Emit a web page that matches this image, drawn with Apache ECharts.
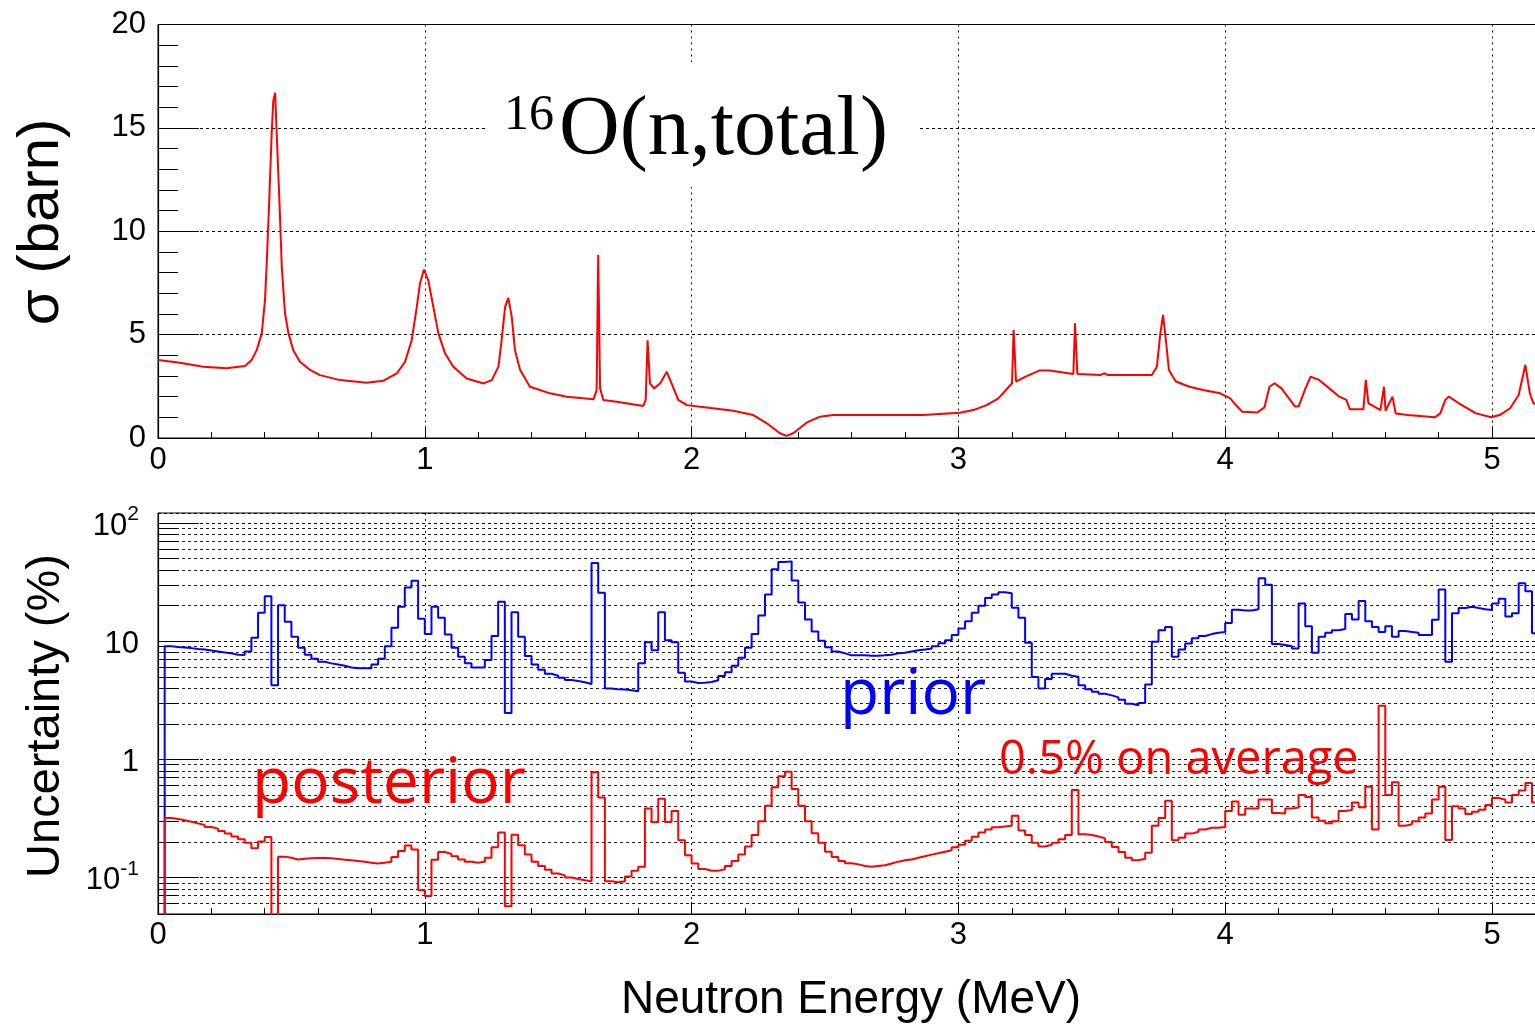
<!DOCTYPE html>
<html><head><meta charset="utf-8">
<script src="https://cdn.jsdelivr.net/npm/echarts@6/dist/echarts.min.js"></script>
<style>html,body{margin:0;padding:0;background:#fff;overflow:hidden}#c{width:1535px;height:1028px}</style>
</head><body><div id="c"></div>
<script>
// ---------- data: top panel, 16O(n,total) cross section ----------
const energyMeV = [0.000,0.082,0.169,0.257,0.326,0.351,0.370,0.389,0.401,0.407,0.417,0.426,0.432,0.439,0.445,0.455,0.464,0.476,0.489,0.507,0.532,0.570,0.607,0.682,0.782,0.845,0.895,0.926,0.951,0.970,0.982,0.997,1.013,1.032,1.051,1.076,1.107,1.157,1.220,1.251,1.276,1.288,1.301,1.313,1.326,1.338,1.357,1.394,1.469,1.532,1.632,1.644,1.650,1.657,1.669,1.719,1.819,1.828,1.835,1.844,1.859,1.882,1.907,1.925,1.950,1.982,2.032,2.156,2.231,2.282,2.331,2.356,2.381,2.431,2.481,2.531,2.869,3.006,3.056,3.106,3.150,3.201,3.207,3.216,3.252,3.303,3.341,3.431,3.437,3.446,3.533,3.546,3.560,3.725,3.744,3.757,3.767,3.779,3.789,3.815,3.866,3.917,3.981,4.019,4.045,4.064,4.121,4.147,4.166,4.185,4.211,4.262,4.275,4.301,4.320,4.326,4.352,4.390,4.428,4.454,4.467,4.518,4.527,4.537,4.582,4.595,4.601,4.627,4.639,4.684,4.786,4.806,4.825,4.838,4.876,4.940,4.997,5.029,5.068,5.100,5.125,5.142,5.155,5.170];
const sigmaBarn = [3.77,3.64,3.45,3.37,3.48,3.77,4.25,5.06,6.67,8.28,11.5,14.7,16.3,16.7,14.7,11.5,8.28,6.03,5.06,4.25,3.69,3.29,3.04,2.80,2.67,2.77,3.12,3.69,4.73,6.34,7.47,8.15,7.63,6.34,5.06,4.09,3.45,2.88,2.64,2.80,3.45,4.73,6.34,6.78,5.86,4.25,3.30,2.48,2.16,2.00,1.87,2.30,8.86,2.40,1.84,1.75,1.55,1.84,4.73,2.64,2.40,2.64,3.20,2.64,1.84,1.59,1.51,1.32,1.11,0.71,0.23,0.10,0.23,0.74,1.03,1.11,1.11,1.22,1.35,1.59,1.92,2.65,5.23,2.73,2.97,3.26,3.26,3.10,5.55,3.10,3.05,3.13,3.05,3.05,3.45,5.06,5.95,4.58,3.29,2.73,2.48,2.32,2.16,1.92,1.52,1.27,1.23,1.48,2.48,2.65,2.40,1.52,1.52,2.40,2.97,3.05,2.81,2.40,2.00,1.84,1.39,1.39,2.81,1.68,1.35,2.48,1.32,2.00,1.19,1.11,1.00,1.19,1.84,2.00,1.68,1.19,1.00,1.11,1.44,2.08,3.53,2.16,1.68,1.60];

// ---------- data: bottom panel, uncertainty histograms (bins of 0.025 MeV from 0) ----------
const binStartMeV = 0;
const binWidthMeV = 0.025;
const priorPct = [0.01,9.06,8.95,8.85,8.75,8.6,8.5,8.35,8.2,8.05,7.9,7.7,7.65,8.2,10.7,17.4,24.1,4.24,20.2,14.6,10.9,8.8,7.7,7.1,6.7,6.5,6.35,6.2,6.0,5.9,5.9,5.9,6.35,7.1,9.06,13.0,19.6,28.6,32.5,15.5,11.5,19.6,15.8,11.4,8.8,7.4,6.5,6.0,6.0,6.95,11.1,21.6,2.47,17.6,10.9,7.5,6.35,5.75,5.3,5.1,4.9,4.7,4.6,4.5,4.35,46,25.7,3.98,3.93,3.9,3.85,3.77,6.5,9.8,8.4,17.6,10.2,9.8,5.4,4.57,4.43,4.46,4.52,4.67,5.07,5.46,6.2,7.26,8.8,11.5,16.5,24.9,40.8,46.9,47.5,32.7,21.3,15.3,12.1,10.1,8.9,8.2,7.9,7.6,7.6,7.6,7.55,7.55,7.6,7.7,7.9,8.0,8.2,8.4,8.5,8.7,9.06,9.6,10.2,11.3,12.8,14.8,17.4,20.0,23.2,24.9,26.0,25.5,19.2,15.8,9.7,4.97,3.98,4.8,5.3,5.3,5.1,5.0,4.24,3.93,3.74,3.59,3.48,3.35,3.2,2.96,2.87,3.0,4.3,9.9,12.4,13.2,7.4,8.5,9.56,10.6,11.1,11.5,11.8,12.0,14.3,18.5,18.2,18.2,18.7,34.1,30.1,9.5,9.3,9.06,8.7,20.9,13.4,8.0,10.9,11.8,12.4,12.7,17.0,15.3,21.9,14.8,13.2,12.0,13.4,10.9,12.2,12.0,11.8,11.3,11.3,15.2,27.4,6.7,17.3,19.1,19.6,19.1,18.7,18.4,20.9,22.9,16.2,17.3,31.0,26.5,11.7];
const posteriorPct = [0.01,0.318,0.312,0.305,0.296,0.287,0.278,0.267,0.259,0.247,0.235,0.222,0.21,0.197,0.177,0.201,0.22,0.01,0.15,0.147,0.142,0.144,0.145,0.146,0.146,0.145,0.143,0.141,0.14,0.138,0.136,0.133,0.131,0.133,0.136,0.149,0.167,0.186,0.172,0.078,0.0695,0.141,0.164,0.158,0.151,0.142,0.136,0.133,0.136,0.147,0.18,0.24,0.057,0.23,0.187,0.156,0.136,0.125,0.116,0.108,0.104,0.1,0.097,0.0945,0.093,0.777,0.475,0.093,0.091,0.093,0.102,0.114,0.123,0.384,0.293,0.464,0.295,0.365,0.206,0.154,0.131,0.118,0.114,0.114,0.117,0.125,0.138,0.156,0.183,0.229,0.299,0.404,0.579,0.72,0.786,0.56,0.404,0.299,0.237,0.197,0.165,0.149,0.138,0.132,0.129,0.125,0.123,0.125,0.127,0.131,0.136,0.14,0.142,0.147,0.151,0.156,0.16,0.165,0.17,0.18,0.189,0.204,0.221,0.24,0.255,0.266,0.27,0.274,0.333,0.25,0.229,0.197,0.183,0.189,0.197,0.21,0.229,0.55,0.232,0.229,0.222,0.214,0.2,0.181,0.164,0.147,0.14,0.144,0.162,0.274,0.318,0.445,0.206,0.217,0.235,0.244,0.255,0.263,0.263,0.267,0.365,0.44,0.339,0.384,0.384,0.458,0.458,0.352,0.348,0.384,0.39,0.5,0.48,0.322,0.302,0.287,0.299,0.365,0.372,0.43,0.392,0.586,0.255,2.84,0.5,0.64,0.274,0.282,0.299,0.322,0.348,0.458,0.586,0.207,0.4,0.384,0.344,0.36,0.375,0.41,0.47,0.455,0.43,0.5,0.545,0.63,0.43];

// ---------- axis / tick definitions ----------
const xMin = 0, xMax = 5.2, xInterval = 1;
const sigmaMin = 0, sigmaMax = 20, sigmaInterval = 5;
const uncMin = 0.049, uncMax = 122;
const logMinorValues = [0.06,0.07,0.08,0.09,0.2,0.3,0.4,0.5,0.6,0.7,0.8,0.9,2,3,4,5,6,7,8,9,20,30,40,50,60,70,80,90];
const minorTickLenMeV = 0.075;

// ---------- build ----------
const sigmaData = energyMeV.map((e, i) => [e, sigmaBarn[i]]);
function histSteps(vals) {
  const d = [];
  for (let i = 0; i < vals.length; i++) d.push([binStartMeV + i * binWidthMeV, vals[i]]);
  d.push([binStartMeV + vals.length * binWidthMeV, vals[vals.length - 1]]);
  return d;
}

const SANS = '"Liberation Sans", Arial, Helvetica, sans-serif';
const OPEN = '"Open Sans", "Noto Sans", sans-serif';
const SERIF = '"Liberation Serif", "Times New Roman", serif';
const PX_PER_MEV = 266.8;
const gridLeft = 158;
const gridWidth = (xMax - xMin) * PX_PER_MEV;

function logLabel(v) {
  const l = Math.log10(v);
  const e = Math.round(l);
  if (Math.abs(l - e) > 1e-6) return '';
  if (e === 0) return '{b|1}';
  if (e === 1) return '{b|10}';
  return '{b|10}{s|' + e + '}';
}

const xAxisCommon = (gridIndex, labelMargin) => ({
  type: 'value', gridIndex, min: xMin, max: xMax, interval: xInterval,
  axisLine: { show: true, onZero: false, lineStyle: { color: '#000', width: 1.2 } },
  axisTick: { show: true, inside: true, length: 12, lineStyle: { color: '#000', width: 1 } },
  minorTick: { show: true, splitNumber: 5, length: 6, lineStyle: { color: '#000', width: 1 } },
  axisLabel: { show: true, color: '#000', fontFamily: SANS, fontSize: 31, margin: labelMargin, showMaxLabel: false },
  splitLine: { show: true, lineStyle: { color: '#000', width: 1, type: [2, 4] } }
});

function txt(x, y, text, font, color, align, rotation) {
  const el = { type: 'text', z: 11, x, y, style: { text, fill: color, font, align, verticalAlign: 'middle', textAlign: align, textVerticalAlign: 'middle' } };
  if (rotation) el.rotation = rotation;
  return el;
}

const option = {
  animation: false,
  backgroundColor: '#fff',
  grid: [
    { left: gridLeft, top: 24.5, width: gridWidth, height: 413.5, show: true, borderColor: '#000', borderWidth: 1, backgroundColor: 'transparent', outerBoundsMode: 'none' },
    { left: gridLeft, top: 513, width: gridWidth, height: 401, show: true, borderColor: '#000', borderWidth: 1, backgroundColor: 'transparent', outerBoundsMode: 'none' }
  ],
  xAxis: [ xAxisCommon(0, 7), xAxisCommon(1, 6) ],
  yAxis: [
    {
      type: 'value', gridIndex: 0, min: sigmaMin, max: sigmaMax, interval: sigmaInterval,
      axisLine: { show: true, onZero: false, lineStyle: { color: '#000', width: 1.2 } },
      axisTick: { show: true, inside: true, length: 41, lineStyle: { color: '#000', width: 1 } },
      minorTick: { show: true, splitNumber: 5, length: 20, lineStyle: { color: '#000', width: 1 } },
      axisLabel: { color: '#000', fontFamily: SANS, fontSize: 31, margin: 12 },
      splitLine: { show: true, lineStyle: { color: '#000', width: 1, type: [3, 3] } }
    },
    {
      type: 'log', logBase: 10, gridIndex: 1, min: uncMin, max: uncMax,
      axisLine: { show: true, onZero: false, lineStyle: { color: '#000', width: 1.2 } },
      axisTick: { show: true, inside: true, length: 41, lineStyle: { color: '#000', width: 1 } },
      axisLabel: {
        color: '#000', fontFamily: SANS, margin: 19, showMinLabel: false, showMaxLabel: false,
        formatter: logLabel,
        rich: {
          b: { fontFamily: SANS, fontSize: 31, lineHeight: 38, color: '#000', padding: [6, 0, 0, 0] },
          s: { fontFamily: SANS, fontSize: 21, lineHeight: 21, color: '#000', verticalAlign: 'top' }
        }
      },
      splitLine: { show: true, lineStyle: { color: '#000', width: 1, type: [3, 3] } }
    }
  ],
  series: [
    {
      name: 'sigma', type: 'line', xAxisIndex: 0, yAxisIndex: 0, data: sigmaData,
      symbol: 'none', clip: true, lineStyle: { color: '#ff0000', width: 2 }, z: 5
    },
    {
      name: 'prior', type: 'line', xAxisIndex: 1, yAxisIndex: 1, data: histSteps(priorPct),
      step: 'end', symbol: 'none', clip: true, lineStyle: { color: '#0000ff', width: 2 }, z: 5,
      markLine: {
        silent: true, symbol: ['none', 'none'], label: { show: false }, animation: false,
        lineStyle: { color: '#222', width: 1, type: [3, 3] },
        emphasis: { disabled: true },
        data: logMinorValues.map(v => ({ yAxis: v }))
      }
    },
    {
      name: 'posterior', type: 'line', xAxisIndex: 1, yAxisIndex: 1, data: histSteps(posteriorPct),
      step: 'end', symbol: 'none', clip: true, lineStyle: { color: '#ff0000', width: 2 }, z: 5,
      markLine: {
        silent: true, symbol: ['none', 'none'], label: { show: false }, animation: false,
        lineStyle: { color: '#000', width: 1, type: 'solid' },
        emphasis: { disabled: true },
        data: logMinorValues.map(v => [{ coord: [xMin, v] }, { coord: [xMin + minorTickLenMeV, v] }])
      }
    }
  ],
  graphic: [
    { type: 'rect', z: 10, shape: { x: 485, y: 62, width: 433, height: 125 }, style: { fill: '#fff' } },
    txt(504, 116, '16', '50px ' + SERIF, '#000', 'left'),
    txt(559, 132, 'O(n,total)', '84px ' + SERIF, '#000', 'left'),
    txt(42, 222, 'σ (barn)', '58px ' + SANS, '#000', 'center', Math.PI / 2),
    txt(46, 716, 'Uncertainty (%)', '47px ' + SANS, '#000', 'center', Math.PI / 2),
    txt(851, 1000, 'Neutron Energy (MeV)', '46px ' + SANS, '#000', 'center'),
    txt(840, 696, 'prior', '64px ' + OPEN, '#0000ff', 'left'),
    txt(252, 785, 'posterior', '64px ' + OPEN, '#ff0000', 'left'),
    txt(999, 761, '0.5% on average', '47px ' + OPEN, '#ff0000', 'left')
  ]
};

const chart = echarts.init(document.getElementById('c'), null, { renderer: 'canvas', width: 1535, height: 1028 });
chart.setOption(option);
</script>
</body></html>
